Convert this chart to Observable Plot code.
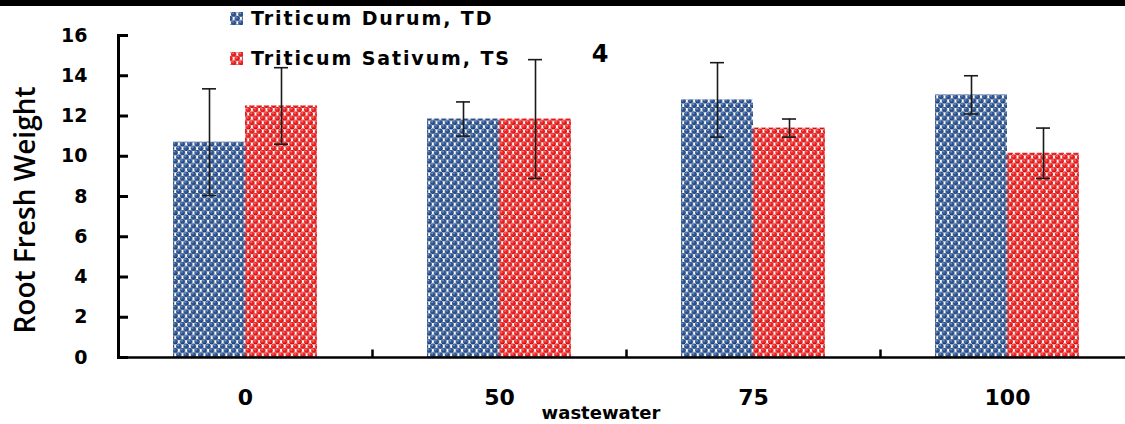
<!DOCTYPE html>
<html><head><meta charset="utf-8">
<script src="https://cdn.jsdelivr.net/npm/d3@7"></script>
<script src="https://cdn.jsdelivr.net/npm/@observablehq/plot@0.6"></script>
<style>
body{margin:0;background:#fff;}
#wrap{position:relative;width:1125px;height:424px;overflow:hidden;font-family:"DejaVu Sans",sans-serif;color:#000;}
#topbar{position:absolute;left:0;top:0;width:1125px;height:6px;background:#000;z-index:3;}
#chart{position:absolute;left:0;top:0;}
.leg{position:absolute;left:230px;font-weight:bold;font-size:19px;display:flex;align-items:center;white-space:nowrap;letter-spacing:1.9px;}
.leg svg{margin-right:8px;}
#ylab{position:absolute;left:24px;top:210px;transform:translate(-50%,-50%) rotate(-90deg);font-family:"Open Sans",sans-serif;font-weight:600;font-size:28px;white-space:nowrap;}
#xlab{position:absolute;left:601px;top:412px;transform:translate(-50%,-50%);font-weight:bold;font-size:18px;white-space:nowrap;}
#num{position:absolute;left:600px;top:54px;transform:translate(-50%,-50%);font-weight:bold;font-size:24px;}
</style></head><body>
<div id="wrap">
  <div id="topbar"></div>
  <div id="chart"></div>
  <div class="leg" id="leg0" style="top:7px;"></div>
  <div class="leg" id="leg1" style="top:47px;"></div>
  <div id="ylab">Root Fresh Weight</div>
  <div id="xlab">wastewater</div>
  <div id="num">4</div>
</div>
<script>
// ---- data ----
const categories = ["0", "50", "75", "100"];
const seriesKeys = ["TD", "TS"];
const seriesNames = ["Triticum Durum, TD", "Triticum Sativum, TS"];
const tdValues = [10.7, 11.85, 12.8, 13.05];
const tsValues = [12.5, 11.85, 11.4, 10.15];
const tdErrors = [2.65, 0.85, 1.85, 0.95];
const tsErrors = [1.9, 2.95, 0.45, 1.25];
const yTicks = [0, 2, 4, 6, 8, 10, 12, 14, 16];
const xAxisLabel = "wastewater";
const yAxisLabel = "Root Fresh Weight";

const rows = [];
categories.forEach((c, i) => {
  rows.push({cat: c, series: "TD", value: tdValues[i], lo: tdValues[i] - tdErrors[i], hi: tdValues[i] + tdErrors[i]});
  rows.push({cat: c, series: "TS", value: tsValues[i], lo: tsValues[i] - tsErrors[i], hi: tsValues[i] + tsErrors[i]});
});

const vtick = {draw(ctx, size) { const l = Math.sqrt(size / Math.PI); ctx.moveTo(0, 0); ctx.lineTo(0, -l); }};
const errColor = "#1a1a1a";

const svg = Plot.plot({
  width: 1125, height: 424,
  marginLeft: 118, marginRight: -9, marginTop: 35, marginBottom: 67,
  style: {fontFamily: "DejaVu Sans, sans-serif", fontSize: "19px", fontWeight: "bold", color: "#000", background: "transparent", overflow: "visible"},
  fx: {domain: categories, padding: 0, label: null},
  x: {domain: seriesKeys, paddingInner: 0, paddingOuter: 0.74, axis: null},
  y: {domain: [0, 16], label: null},
  color: {domain: seriesKeys, range: ["url(#patTD)", "url(#patTS)"]},
  marks: [
    Plot.barY(rows, {fx: "cat", x: "series", y: "value", fill: "series"}),
    Plot.ruleX(rows, {fx: "cat", x: "series", y1: "lo", y2: "hi", stroke: errColor, strokeWidth: 1.6}),
    Plot.tickY(rows, {fx: "cat", x: "series", y: "hi", insetLeft: 29, insetRight: 29, stroke: errColor, strokeWidth: 1.6}),
    Plot.tickY(rows, {fx: "cat", x: "series", y: "lo", insetLeft: 29, insetRight: 29, stroke: errColor, strokeWidth: 1.6}),
    Plot.ruleY([0], {stroke: "#000", strokeWidth: 2.5}),
    Plot.frame({anchor: "left", facetAnchor: "left", stroke: "#000", strokeWidth: 3}),
    Plot.dot([0], {frameAnchor: "bottom-left", symbol: vtick, r: 8, stroke: "#000", strokeWidth: 2.5, fill: "none"}),
    Plot.axisY({ticks: yTicks, tickSize: -10, tickPadding: 41, strokeWidth: 3, fontSize: 19, fontWeight: "bold", tickFormat: d => d, label: null}),
    Plot.axisFx({anchor: "bottom", tickSize: 0, tickPadding: 32, fontSize: 22, fontWeight: "bold", label: null})
  ]
});

// sphere-dot fill patterns
const defs = d3.select(svg).insert("defs", ":first-child");
function addPattern(id, base, shade, light) {
  const W = 7.3, H = 8.6;
  const p = defs.append("pattern").attr("id", id).attr("patternUnits", "userSpaceOnUse").attr("width", W).attr("height", H);
  p.append("rect").attr("width", W).attr("height", H).attr("fill", "#fff");
  const centers = [[W / 2, 2.15], [0, 6.45]];
  for (const [cx, cy] of centers) {
    for (const ox of [-W, 0, W]) for (const oy of [-H, 0, H]) {
      p.append("circle").attr("cx", cx + ox).attr("cy", cy + oy).attr("r", 2.6).attr("fill", shade);
      p.append("circle").attr("cx", cx + ox - 0.2).attr("cy", cy + oy - 0.3).attr("r", 2.0).attr("fill", base);
      p.append("circle").attr("cx", cx + ox - 0.8).attr("cy", cy + oy - 0.9).attr("r", 0.7).attr("fill", light);
    }
  }
}
addPattern("patTD", "#2a579e", "#163666", "#a3badd");
addPattern("patTS", "#f82222", "#c40000", "#ffaaaa");
document.getElementById("chart").appendChild(svg);

// legend
seriesKeys.forEach((k, i) => {
  const el = document.getElementById("leg" + i);
  el.innerHTML = `<svg width="13" height="13"><rect width="13" height="13" fill="url(#pat${k})"/></svg><span>${seriesNames[i]}</span>`;
});
document.getElementById("xlab").textContent = xAxisLabel;
document.getElementById("ylab").textContent = yAxisLabel;
</script>
</body></html>
